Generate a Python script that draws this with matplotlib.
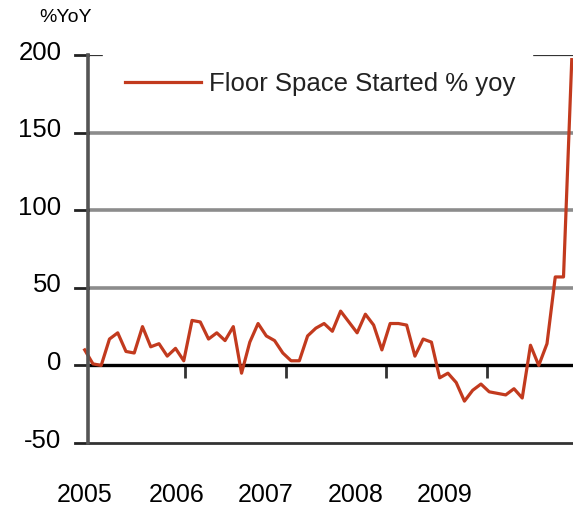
import matplotlib
matplotlib.use("Agg")
import matplotlib.pyplot as plt
import matplotlib.transforms as mtransforms
import numpy as np

plt.rcParams["font.family"] = ["Liberation Sans", "DejaVu Sans"]
plt.rcParams["axes.unicode_minus"] = False

# monthly % yoy, Jan 2005 onwards
floor_space_yoy = [
    10, 1, 0, 17, 21, 9, 8, 25, 12, 14, 6, 11,
    3, 29, 28, 17, 21, 16, 25, -5, 15, 27, 19, 16,
    8, 3, 3, 19, 24, 27, 22, 35, 28, 21, 33, 26,
    10, 27, 27, 26, 6, 17, 15, -8, -5, -11, -23, -16,
    -12, -17, -18, -19, -15, -21, 13, 0, 14, 57, 57, 197,
]
year_labels = ["2005", "2006", "2007", "2008", "2009"]
year_ticks = [12.2, 24.4, 36.5, 48.7]
y_ticks = [-50, 0, 50, 100, 150, 200]

LINE_RED = "#c23a1e"

fig = plt.figure(figsize=(5.73, 5.11), dpi=100)
ax = fig.add_axes([88 / 573, 0.133, 1 - 88 / 573, 0.7594])

months = np.arange(len(floor_space_yoy))
ax.plot(months, floor_space_yoy, color=LINE_RED, lw=2.3, zorder=4,
        label="Floor Space Started % yoy", clip_on=False)

ax.set_xlim(0.4, 59.15)
ax.set_ylim(-50, 200)

# grid and frame lines
for g in [50, 100, 150]:
    ax.axhline(g, color="#8c8c8c", lw=2.6, zorder=1)
ax.axhline(200, color="#333333", lw=1.6, zorder=1)
ax.axhline(-50, color="#333333", lw=2.0, zorder=1, clip_on=False)
# y tick marks, drawn as short stubs left of the axis
for g in y_ticks:
    ax.axhline(g, xmin=-0.026, xmax=0.0, color="#222222", lw=2.0, clip_on=False)

ax.spines["top"].set_visible(False)
ax.spines["right"].set_visible(False)
ax.spines["left"].set_color("#555555")
ax.spines["left"].set_linewidth(2.6)
ax.spines["left"].set_zorder(5)
ax.spines["bottom"].set_position(("data", 0))
ax.spines["bottom"].set_color("black")
ax.spines["bottom"].set_linewidth(2.4)

ax.set_yticks(y_ticks)
ax.tick_params(axis="y", length=0, labelsize=18.5, pad=19)
# labels sit a little above their gridlines
shift = mtransforms.ScaledTranslation(0, 3.5 / 72, fig.dpi_scale_trans)
for lab in ax.get_yticklabels():
    lab.set_transform(lab.get_transform() + shift)

ax.set_xticks(year_ticks)
ax.set_xticklabels([])
ax.tick_params(axis="x", direction="out", length=9, width=2, color="#333333")

leg = ax.legend(loc="upper left", bbox_to_anchor=(0.031, 0.85, 0.884, 0.163),
                mode="expand", borderaxespad=0, fontsize=18.5, handlelength=2.95,
                handletextpad=0.3, borderpad=0.87, frameon=True, fancybox=False)
leg.get_frame().set_facecolor("white")
leg.get_frame().set_edgecolor("white")
leg.get_frame().set_alpha(1)
leg.set_zorder(6)
for t in leg.get_texts():
    t.set_color("#222222")

for px, lab in zip([85, 177, 266, 356, 445], year_labels):
    fig.text(px / 573, 1 - 495 / 511, lab, ha="center", va="center", fontsize=18)

fig.text(66 / 573, 1 - 18 / 511, "%YoY", ha="center", va="center", fontsize=14)

fig.savefig("out.png", dpi=100)
